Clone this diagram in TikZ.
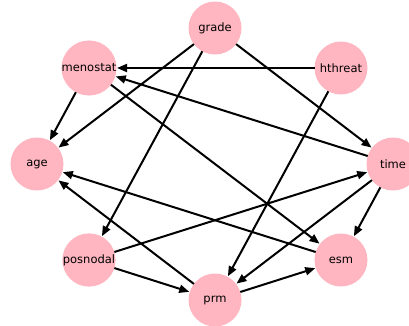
\documentclass[tikz,border=0pt]{standalone}
\usepackage{fontspec}
\setmainfont{DejaVu Sans}
\usetikzlibrary{arrows.meta}
\definecolor{nodepink}{RGB}{255,182,193}
\begin{document}
\begin{tikzpicture}[x=1pt,y=-1pt,
  vnode/.style={circle,fill=nodepink,minimum size=53pt,inner sep=0pt,outer sep=0pt,font=\fontsize{11.5}{13}\selectfont},
  edge/.style={line width=2pt,-{Triangle[length=10pt,width=8pt]},shorten >=0.5pt}]
\useasboundingbox (0,0) rectangle (409,325);
\node[vnode] (grade) at (215,28) {grade};
\node[vnode] (menostat) at (89,68) {menostat};
\node[vnode] (hthreat) at (341,68) {hthreat};
\node[vnode] (age) at (37,164) {age};
\node[vnode] (time) at (393,164) {time};
\node[vnode] (posnodal) at (89,260) {posnodal};
\node[vnode] (esm) at (341,260) {esm};
\node[vnode] (prm) at (215,300) {prm};
\draw[edge] (grade) -- (age);
\draw[edge] (grade) -- (posnodal);
\draw[edge] (grade) -- (time);
\draw[edge] (hthreat) -- (menostat);
\draw[edge] (hthreat) -- (prm);
\draw[edge] (menostat) -- (age);
\draw[edge] (menostat) -- (esm);
\draw[edge] (time) -- (menostat);
\draw[edge] (time) -- (esm);
\draw[edge] (time) -- (prm);
\draw[edge] (posnodal) -- (time);
\draw[edge] (posnodal) -- (prm);
\draw[edge] (esm) -- (age);
\draw[edge] (prm) -- (age);
\draw[edge] (prm) -- (esm);
\end{tikzpicture}
\end{document}
